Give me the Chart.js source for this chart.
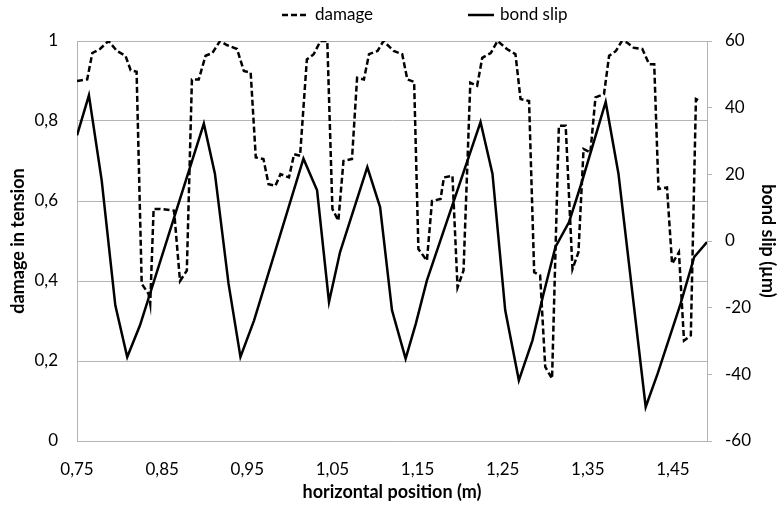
<!DOCTYPE html>
<html>
<head>
<meta charset="utf-8">
<script src="https://cdn.jsdelivr.net/npm/chart.js@4/dist/chart.umd.min.js"></script>
<style>
  html, body { margin: 0; padding: 0; background: #fff; }
</style>
</head>
<body>
<canvas id="chart" width="779" height="508"></canvas>
<script>
//damage in tension (left axis)
const damageX = [0.750, 0.762, 0.768, 0.777, 0.787, 0.797, 0.807, 0.813, 0.820, 0.826, 0.834, 0.836, 0.840, 0.848, 0.864, 0.871, 0.879, 0.885, 0.893, 0.901, 0.909, 0.918,
    0.926, 0.938, 0.946, 0.954, 0.960, 0.969, 0.975, 0.983, 0.989, 0.999, 1.005, 1.012, 1.020, 1.028, 1.036, 1.044, 1.050, 1.057, 1.063, 1.073, 1.079, 1.087, 1.093,
    1.103, 1.110, 1.122, 1.132, 1.138, 1.146, 1.151, 1.161, 1.167, 1.177, 1.181, 1.191, 1.197, 1.204, 1.212, 1.220, 1.226, 1.236, 1.244, 1.255, 1.265, 1.271, 1.281,
    1.287, 1.294, 1.300, 1.308, 1.316, 1.324, 1.332, 1.339, 1.345, 1.353, 1.359, 1.369, 1.375, 1.383, 1.390, 1.396, 1.404, 1.414, 1.422, 1.428, 1.433, 1.443, 1.449,
    1.457, 1.463, 1.471, 1.477, 1.482];
const damage = [0.90, 0.904, 0.97, 0.98, 1.0, 0.975, 0.963, 0.927, 0.923, 0.393, 0.368, 0.343, 0.58, 0.58, 0.576, 0.40, 0.426, 0.904, 0.904, 0.963, 0.97, 1.0,
    0.99, 0.98, 0.925, 0.921, 0.709, 0.705, 0.642, 0.638, 0.667, 0.659, 0.717, 0.713, 0.954, 0.967, 1.0, 1.0, 0.58, 0.551, 0.70, 0.705, 0.908, 0.904, 0.967,
    0.975, 1.0, 0.975, 0.967, 0.904, 0.898, 0.48, 0.451, 0.60, 0.605, 0.659, 0.663, 0.384, 0.426, 0.896, 0.888, 0.958, 0.97, 1.0, 0.98, 0.967, 0.855, 0.85,
    0.422, 0.414, 0.185, 0.156, 0.788, 0.788, 0.43, 0.472, 0.73, 0.721, 0.859, 0.867, 0.963, 0.975, 1.0, 0.996, 0.983, 0.98, 0.942, 0.942, 0.63, 0.634, 0.443,
    0.472, 0.251, 0.264, 0.855, 0.85];

//bond slip in µm (right axis)
const slipX = [0.750, 0.764, 0.779, 0.795, 0.809, 0.824, 0.899, 0.912, 0.928, 0.942, 0.958, 1.016, 1.032, 1.046, 1.059, 1.091, 1.106, 1.120, 1.136, 1.148,
    1.161, 1.224, 1.238, 1.253, 1.269, 1.285, 1.298, 1.312, 1.328, 1.343, 1.371, 1.386, 1.418, 1.432, 1.459, 1.475, 1.490];
const slip = [31.7, 43.7, 18.2, -19.3, -34.8, -25.3, 35.2, 20.2, -12.8, -34.8, -23.8, 24.7, 15.2, -18.3, -3.3, 22.2, 10.2, -20.8, -35.3, -24.8,
    -11.8, 35.7, 20.2, -20.8, -41.8, -29.8, -15.8, -1.8, 5.7, 17.7, 41.7, 20.2, -49.8, -39.8, -18.8, -4.8, -0.3];

//tick labels on the horizontal axis
const xTicks = [0.75, 0.85, 0.95, 1.05, 1.15, 1.25, 1.35, 1.45];

const FONT = 'Lato';
const TEXT = '#000';
const GRID = '#b4b4b4';

const comma = (v, d) => v.toFixed(d).replace('.', ',');

//draws the legend on top (dashed / solid line samples)
const legendLines = {
    id: 'legendLines',
    afterDraw(chart) {
        const c = chart.ctx;
        c.save();
        c.strokeStyle = '#000';
        c.fillStyle = TEXT;
        c.font = '17px ' + FONT;
        c.textBaseline = 'middle';

        c.lineWidth = 2.5;
        c.setLineDash([6, 3]);
        c.beginPath(); c.moveTo(282, 15); c.lineTo(307, 15); c.stroke();
        c.fillText('damage', 315, 15);

        c.lineWidth = 2.5;
        c.setLineDash([]);
        c.beginPath(); c.moveTo(468, 15); c.lineTo(494, 15); c.stroke();
        c.fillText('bond slip', 500, 15);
        c.restore();
    }
};

const data = {
    datasets: [{
        label: 'damage',
        data: damageX.map((x, i) => ({ x: x, y: damage[i] })),
        borderColor: '#000',
        borderWidth: 2.5,
        borderDash: [6, 3],
        pointRadius: 0,
        tension: 0,
        yAxisID: 'y',
    }, {
        label: 'bond slip',
        data: slipX.map((x, i) => ({ x: x, y: slip[i] })),
        borderColor: '#000',
        borderWidth: 2.5,
        pointRadius: 0,
        tension: 0,
        yAxisID: 'slip',
    }]
};

const titleFont = { family: FONT, size: 18, weight: 'bold' };
const tickFont = { family: FONT, size: 17 };

const scales = {
    x: {
        type: 'linear',
        min: 0.75,
        max: 1.49,
        afterBuildTicks: s => { s.ticks = xTicks.map(v => ({ value: v })); },
        afterFit: s => { s.height = 67; },
        grid: { display: false },
        border: { display: true, color: GRID },
        ticks: {
            color: TEXT,
            font: tickFont,
            padding: 10,
            maxRotation: 0,
            autoSkip: false,
            callback: v => comma(v, 2)
        },
        title: {
            display: true,
            text: 'horizontal position (m)',
            color: TEXT,
            font: titleFont,
            padding: { top: 0, bottom: 5 }
        }
    },
    y: {
        position: 'left',
        min: 0,
        max: 1,
        afterFit: s => { s.width = 77; },
        grid: { color: GRID, drawTicks: false },
        border: { display: true, color: GRID },
        ticks: {
            stepSize: 0.2,
            color: TEXT,
            font: tickFont,
            padding: 19,
            callback: v => v === 0 || v === 1 ? String(v) : comma(v, 1)
        },
        title: {
            display: true,
            text: 'damage in tension',
            color: TEXT,
            font: titleFont,
            padding: { top: 7, bottom: 0 }
        }
    },
    slip: {
        position: 'right',
        min: -60,
        max: 60,
        afterFit: s => { s.width = 72; },
        grid: { color: GRID, drawOnChartArea: false, drawTicks: true, tickLength: 5 },
        border: { display: true, color: GRID },
        ticks: {
            stepSize: 20,
            color: TEXT,
            font: tickFont,
            padding: 13
        },
        title: {
            display: true,
            text: 'bond slip (µm)',
            color: TEXT,
            font: titleFont,
            padding: { top: 0, bottom: 0 }
        }
    }
};

const config = {
    type: 'line',
    data: data,
    options: {
        responsive: false,
        animation: false,
        devicePixelRatio: 1,
        layout: { padding: { top: 41, left: 0, right: 0, bottom: 0 } },
        plugins: {
            legend: { display: false },
            tooltip: { enabled: false }
        },
        scales: scales
    },
    plugins: [legendLines]
};

let MainChart = new Chart(document.getElementById('chart'), config);
</script>
</body>
</html>
